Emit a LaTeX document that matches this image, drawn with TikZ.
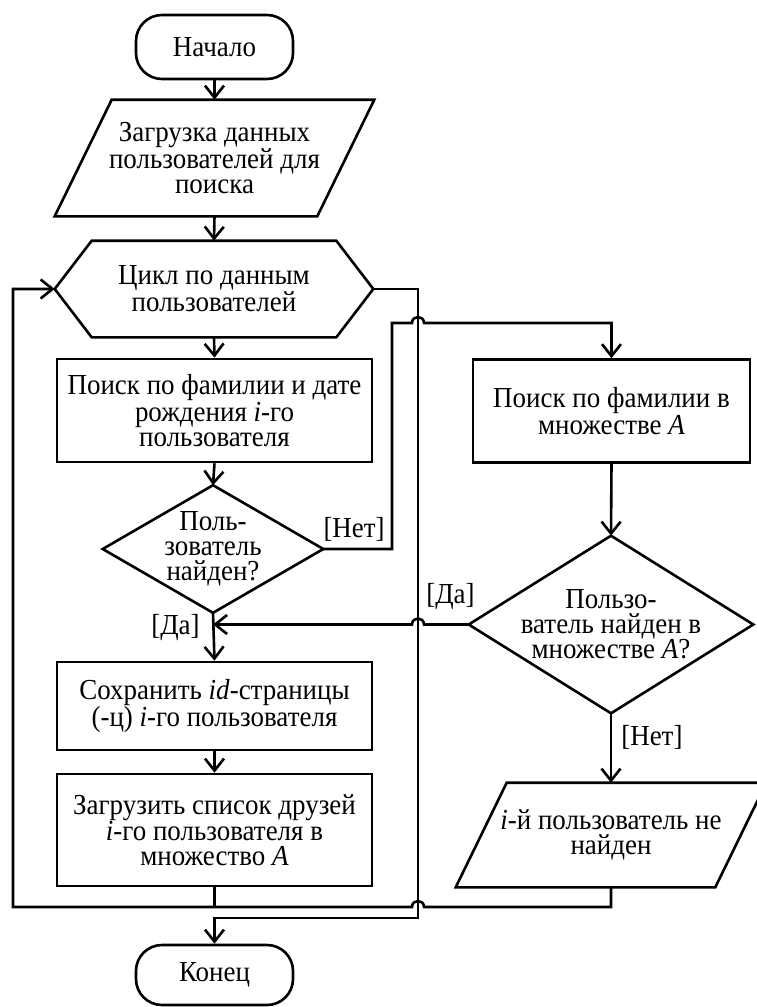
\documentclass[tikz,border=0pt]{standalone}
\usepackage{fontspec}
\setmainfont{Liberation Serif}[FakeStretch=0.93]
\usetikzlibrary{arrows.meta,calc}

\begin{document}
\begin{tikzpicture}[x=1pt,y=-1pt,
  line width=2.6pt,
  txt/.style={font=\fontsize{29pt}{25pt}\selectfont, align=center, inner sep=0pt},
  term/.style={txt, draw, rounded corners=26pt, minimum width=157pt},
  blk/.style={txt, draw, minimum width=315pt, minimum height=103pt},
  frame/.style={txt},
  outline/.style={line join=miter},
  arr/.style={-{Straight Barb[length=12pt,width=19pt]}},
  lbl/.style={font=\fontsize{29pt}{25pt}\selectfont, inner sep=0pt}]
\useasboundingbox (0,0) rectangle (756,1007);

% ---------- main column ----------
\node[term, minimum height=64pt] (start) at (214.5,47) {Начало};

\node[frame, minimum width=317pt, minimum height=114pt] (load) at (214.5,158)
  {Загрузка данных\\пользователей для\\поиска};
\draw[outline] ([xshift=57pt]load.north west) -- (load.north east)
  -- ([xshift=-57pt]load.south east) -- (load.south west) -- cycle;

\node[frame, minimum width=316pt, minimum height=94pt] (loop) at (214,289)
  {Цикл по данным\\пользователей};
\draw[outline] (loop.west) -- ([xshift=37pt]loop.north west)
  -- ([xshift=-37pt]loop.north east) -- (loop.east)
  -- ([xshift=-37pt]loop.south east) -- ([xshift=37pt]loop.south west) -- cycle;

\node[blk] (search) at (214.5,410.5)
  {Поиск по фамилии и дате\\рождения \textit{i}-го\\пользователя};

\node[frame, minimum width=218pt, minimum height=125pt] (found) at (213,549)
  {Поль-\\зователь\\найден?};
\draw[outline] (found.north) -- (found.east) -- (found.south) -- (found.west) -- cycle;

\node[blk, minimum height=88pt] (save) at (214.5,706)
  {Сохранить \textit{id}-страницы\\(-ц) \textit{i}-го пользователя};

\node[blk, minimum height=112pt] (friends) at (214.5,830)
  {Загрузить список друзей\\\textit{i}-го пользователя в\\множество \textit{A}};

\node[term, minimum height=60pt] (stop) at (214.5,975) {Конец};

% ---------- right column ----------
\node[blk, minimum width=277pt] (fsearch) at (611.5,411)
  {Поиск по фамилии в\\множестве \textit{A}};

\node[frame, minimum width=282pt, minimum height=175pt] (ffound) at (611,624.5)
  {Пользо-\\ватель найден в\\множестве \textit{A}?};
\draw[outline] (ffound.north) -- (ffound.east) -- (ffound.south) -- (ffound.west) -- cycle;

\node[frame, minimum width=308pt, minimum height=102pt] (nf) at (611,835)
  {\textit{i}-й пользователь не\\найден};
\draw[outline] ([xshift=51pt]nf.north west) -- (nf.north east)
  -- ([xshift=-51pt]nf.south east) -- (nf.south west) -- cycle;

% ---------- routing points ----------
\coordinate (nobus) at (392,323);
\coordinate (loopR) at (418,289);
\coordinate (loopL) at (13,289);
\coordinate (loopB) at (13,907);
\coordinate (exitB) at (418,918);
\coordinate (crossN) at (nobus -| loopR);
\coordinate (crossY) at (loopR |- ffound.west);
\coordinate (crossB) at (loopR |- loopB);
\coordinate (yesjoin) at (found.south |- ffound.west);

% ---------- connectors ----------
\draw[arr] (start.south) -- (load.north);
\draw[arr] (load.south) -- (loop.north);
\draw[arr] (loop.south) -- (search.north);
\draw[arr] (search.south) -- (found.north);
\draw[arr] (found.south) -- (save.north);
\draw[arr] (save.south) -- (friends.north);

% loop exit, passing under the crossing lines
\draw[arr] (loop.east) -| (exitB) -| (stop.north);

% not found in the main search: go to the friends set
\draw[arr] (found.east) -| (nobus) -- ([xshift=-6pt]crossN)
  .. controls +(0,-8) and +(0,-8) .. ([xshift=6pt]crossN) -| (fsearch.north);

\draw[arr] (fsearch.south) -- (ffound.north);
\draw[arr] (ffound.south) -- (nf.north);

% found among friends: back to saving the page id
\draw[arr] (ffound.west) -- ([xshift=6pt]crossY)
  .. controls +(0,-8) and +(0,-8) .. ([xshift=-6pt]crossY) -- (yesjoin);

% next iteration of the loop
\draw[arr] (nf.south) -- (nf.south |- loopB) -- ([xshift=6pt]crossB)
  .. controls +(0,-8) and +(0,-8) .. ([xshift=-6pt]crossB)
  -- (loopB) -- (loopL) -- (loop.west);
\draw (friends.south) -- (friends.south |- loopB);

% ---------- branch labels ----------
\node[lbl, anchor=base east] (noA) at (386,537) {[Нет]};
\node[lbl, anchor=base west] (yesB) at (425,603) {[Да]};
\node[lbl, anchor=base east] (yesA) at (201,634) {[Да]};
\node[lbl, anchor=base west] (noB) at (620,745) {[Нет]};
\end{tikzpicture}
\end{document}
